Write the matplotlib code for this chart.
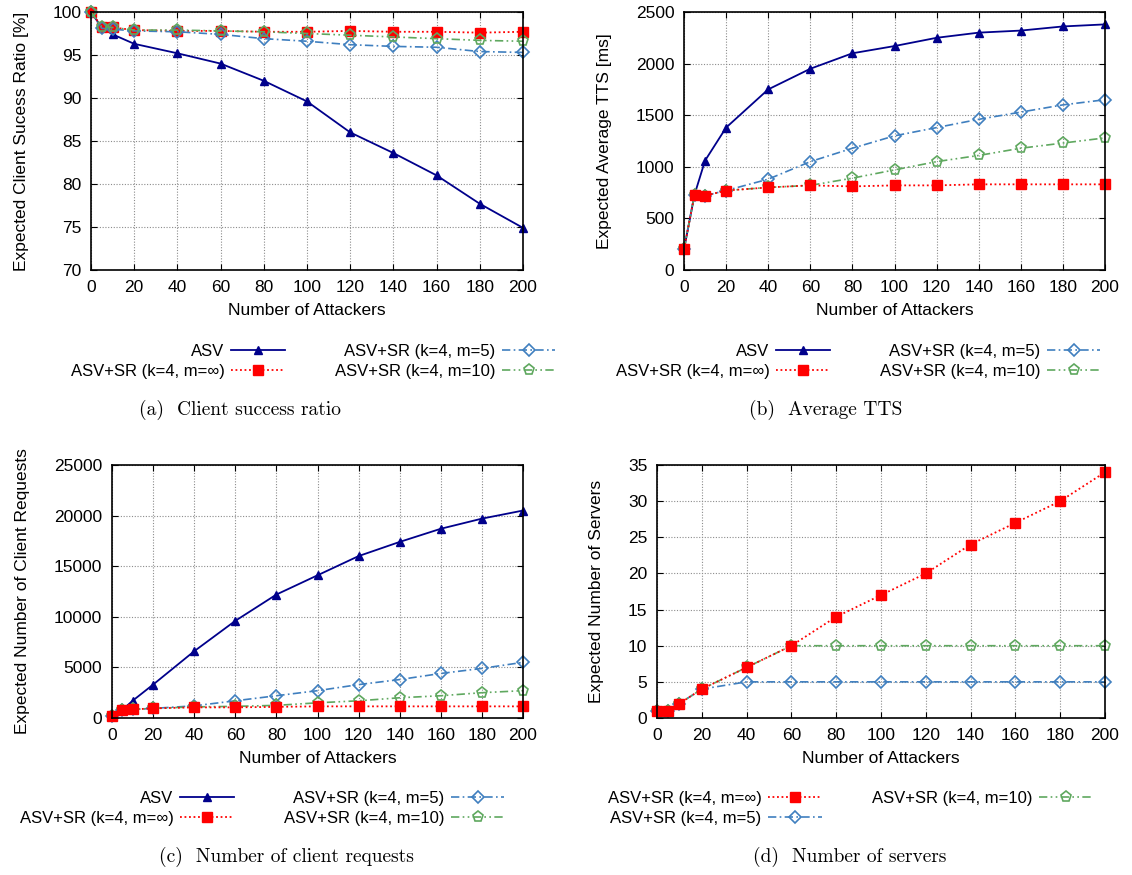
import matplotlib
matplotlib.use("Agg")
import matplotlib.pyplot as plt

x = [0, 5, 10, 20, 40, 60, 80, 100, 120, 140, 160, 180, 200]
xticks = [0, 20, 40, 60, 80, 100, 120, 140, 160, 180, 200]

# (a) client success ratio [%]
a_asv = [100, 98.2, 97.4, 96.3, 95.2, 94.0, 92.0, 89.6, 86.0, 83.6, 81.0, 77.7, 74.9]
a_inf = [100, 98.3, 98.2, 97.9, 97.8, 97.8, 97.7, 97.7, 97.8, 97.7, 97.7, 97.6, 97.7]
a_m5 = [100, 98.1, 98.0, 97.8, 97.7, 97.4, 96.9, 96.6, 96.2, 96.0, 95.9, 95.4, 95.3]
a_m10 = [100, 98.3, 98.2, 97.9, 97.9, 97.8, 97.7, 97.5, 97.3, 97.1, 96.9, 96.7, 96.6]

# (b) average TTS [ms]
b_asv = [200, 730, 1060, 1380, 1750, 1950, 2100, 2170, 2250, 2300, 2320, 2360, 2380]
b_inf = [200, 730, 720, 770, 800, 820, 810, 820, 820, 830, 830, 830, 830]
b_m5 = [200, 730, 720, 770, 880, 1050, 1180, 1300, 1380, 1460, 1530, 1600, 1650]
b_m10 = [200, 730, 720, 770, 800, 820, 890, 970, 1050, 1110, 1180, 1230, 1280]

# (c) number of client requests
c_asv = [200, 800, 1700, 3300, 6600, 9600, 12200, 14100, 16000, 17400, 18700, 19700, 20500]
c_inf = [200, 800, 850, 950, 1050, 1050, 1100, 1150, 1150, 1150, 1150, 1150, 1150]
c_m5 = [200, 800, 850, 950, 1200, 1700, 2200, 2700, 3300, 3800, 4400, 4900, 5500]
c_m10 = [200, 800, 850, 950, 1100, 1150, 1250, 1500, 1700, 2000, 2200, 2500, 2700]

# (d) number of servers
d_inf = [1, 1, 2, 4, 7, 10, 14, 17, 20, 24, 27, 30, 34]
d_m5 = [1, 1, 2, 4, 5, 5, 5, 5, 5, 5, 5, 5, 5]
d_m10 = [1, 1, 2, 4, 7, 10, 10, 10, 10, 10, 10, 10, 10]

lbl_asv = "ASV"
lbl_inf = "ASV+SR (k=4, m=\u221e)"
lbl_m5 = "ASV+SR (k=4, m=5)"
lbl_m10 = "ASV+SR (k=4, m=10)"

plt.rcParams['font.family'] = ['Liberation Sans', 'DejaVu Sans']

C_ASV = "#00008b"
C_INF = "#ff0000"
C_M5 = "#3f7fbf"
C_M10 = "#5fa85f"

st_asv = dict(color=C_ASV, lw=1.3, ls='-', marker='^', ms=6, mfc=C_ASV, mec=C_ASV, clip_on=False)
st_inf = dict(color=C_INF, lw=1.3, ls=(0, (1, 1.5)), marker='s', ms=7, mfc=C_INF, mec=C_INF, clip_on=False)
st_m5 = dict(color=C_M5, lw=1.2, ls=(0, (5, 2, 1, 2)), marker='D', ms=6, mfc='none', mec=C_M5, mew=1.2, clip_on=False)
st_m10 = dict(color=C_M10, lw=1.2, ls=(0, (5, 2, 1, 2, 1, 2)), marker='p', ms=8, mfc='none', mec=C_M10, mew=1.2, clip_on=False)

W, H = 1132, 875
fig = plt.figure(figsize=(W / 100, H / 100), dpi=100)

def setup(ax, ylabel, yticks, ylim):
    ax.set_xlim(0, 200)
    ax.set_ylim(*ylim)
    ax.set_xticks(xticks)
    ax.set_yticks(yticks)
    ax.grid(True, color='#8c8c8c', ls=(0, (1, 1.5)), lw=0.8)
    ax.tick_params(direction='in', top=True, right=True, labelsize=12.5, length=4, pad=7)
    ax.set_xlabel("Number of Attackers", fontsize=12.5, labelpad=6)
    ax.set_ylabel(ylabel, fontsize=12.5, labelpad=17)
    for s in ax.spines.values():
        s.set_linewidth(1.2)
    ax.set_axisbelow(True)

def legend(handles, labels, cx, top):
    fig.legend(handles, labels, ncol=2, loc='upper center',
               bbox_to_anchor=(cx / W, 1 - top / H),
               frameon=False, markerfirst=False, fontsize=12, handlelength=3.2,
               columnspacing=3.0, labelspacing=0.3, handletextpad=0.4,
               borderpad=0.0, borderaxespad=0.0)

def caption(text, cx, cy):
    fig.text(cx / W, 1 - cy / H, text, ha='center', va='center',
             fontsize=14, family='cmr10')

# (a)
ax = fig.add_axes([91 / W, 1 - 270 / H, 432 / W, 258 / H])
h1, = ax.plot(x, a_asv, **st_asv)
h2, = ax.plot(x, a_inf, **st_inf)
h3, = ax.plot(x, a_m5, **st_m5)
h4, = ax.plot(x, a_m10, **st_m10)
setup(ax, "Expected Client Sucess Ratio [%]", [70, 75, 80, 85, 90, 95, 100], (70, 100))
legend([h1, h2, h3, h4], [lbl_asv, lbl_inf, lbl_m5, lbl_m10], 313, 344)
caption("(a)  Client success ratio", 240, 410)

# (b)
ax = fig.add_axes([684 / W, 1 - 270 / H, 421 / W, 258 / H])
h1, = ax.plot(x, b_asv, **st_asv)
h3, = ax.plot(x, b_m5, **st_m5)
h4, = ax.plot(x, b_m10, **st_m10)
h2, = ax.plot(x, b_inf, **st_inf)
setup(ax, "Expected Average TTS [ms]", [0, 500, 1000, 1500, 2000, 2500], (0, 2500))
legend([h1, h2, h3, h4], [lbl_asv, lbl_inf, lbl_m5, lbl_m10], 858, 344)
caption("(b)  Average TTS", 826, 410)

# (c)
ax = fig.add_axes([112 / W, 1 - 718 / H, 411 / W, 253 / H])
h1, = ax.plot(x, c_asv, **st_asv)
h3, = ax.plot(x, c_m5, **st_m5)
h4, = ax.plot(x, c_m10, **st_m10)
h2, = ax.plot(x, c_inf, **st_inf)
setup(ax, "Expected Number of Client Requests", [0, 5000, 10000, 15000, 20000, 25000], (0, 25000))
legend([h1, h2, h3, h4], [lbl_asv, lbl_inf, lbl_m5, lbl_m10], 262, 791)
caption("(c)  Number of client requests", 286, 857)

# (d)
ax = fig.add_axes([657 / W, 1 - 718 / H, 448 / W, 253 / H])
h3, = ax.plot(x, d_m5, **st_m5)
h4, = ax.plot(x, d_m10, **st_m10)
h2, = ax.plot(x, d_inf, **st_inf)
setup(ax, "Expected Number of Servers", [0, 5, 10, 15, 20, 25, 30, 35], (0, 35))
legend([h2, h3, h4], [lbl_inf, lbl_m5, lbl_m10], 850, 791)
caption("(d)  Number of servers", 850, 857)

fig.savefig("out.png", dpi=100)
